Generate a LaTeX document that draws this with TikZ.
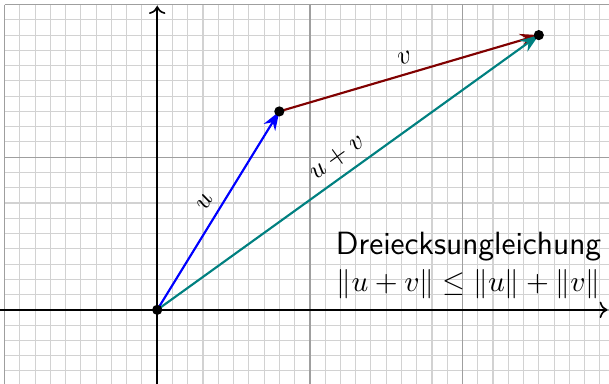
\documentclass[tikz,border=0pt]{standalone}
\usepackage{amsmath}
\usepackage{amssymb}
\usepackage{tikz}
\usetikzlibrary{arrows.meta}

\definecolor{vecred}{RGB}{128,0,0}
\definecolor{vecteal}{RGB}{0,128,128}

\begin{document}
\begin{tikzpicture}[
    x=2cm, y=2cm,
    >=To,
    fine_grid/.style={gray!35, line width=0.4pt},
    major_grid/.style={gray!75, line width=0.5pt},
    axis/.style={->, semithick},
    vec_arrow/.style={-{Stealth[length=7pt, width=5pt]}, thick},
    vec_label/.style={midway, above, sloped, text=black},
    dot/.style={fill=black}
]

% Bounding box and clip
\useasboundingbox (-1.03,-0.48) rectangle (2.96,2.03);
\clip (-1.03,-0.48) rectangle (2.96,2.03);

% Grid
\draw[fine_grid] (-1,-1) grid[step=0.1] (3,2);
\draw[major_grid] (-1,-1) grid[step=1] (3,2);

% Axes
\draw[axis] (-1.1,0) -- (2.95,0);
\draw[axis] (0,-0.6) -- (0,1.99);

% Points
\coordinate (origin) at (0,0);
\coordinate (tip_u) at (0.8,1.3);
\coordinate (tip_uv) at (2.5,1.8);

% Vectors
\draw[vec_arrow, blue] (origin) -- (tip_u) node[vec_label] {$u$};
\draw[vec_arrow, vecred] (tip_u) -- (tip_uv) node[vec_label] {$v$};
\draw[vec_arrow, vecteal] (origin) -- (tip_uv) node[vec_label] {$u+v$};

% Dots
\foreach \p in {origin, tip_u, tip_uv}
    \fill[dot] (\p) circle (1.9pt);

% Label
\node[align=center, font=\sffamily\large] (label) at (2.04,0.29)
    {Dreiecksungleichung\\ \normalfont\fontsize{11}{13}\selectfont $\|u+v\| \leq \|u\| + \|v\|$};

\end{tikzpicture}
\end{document}
